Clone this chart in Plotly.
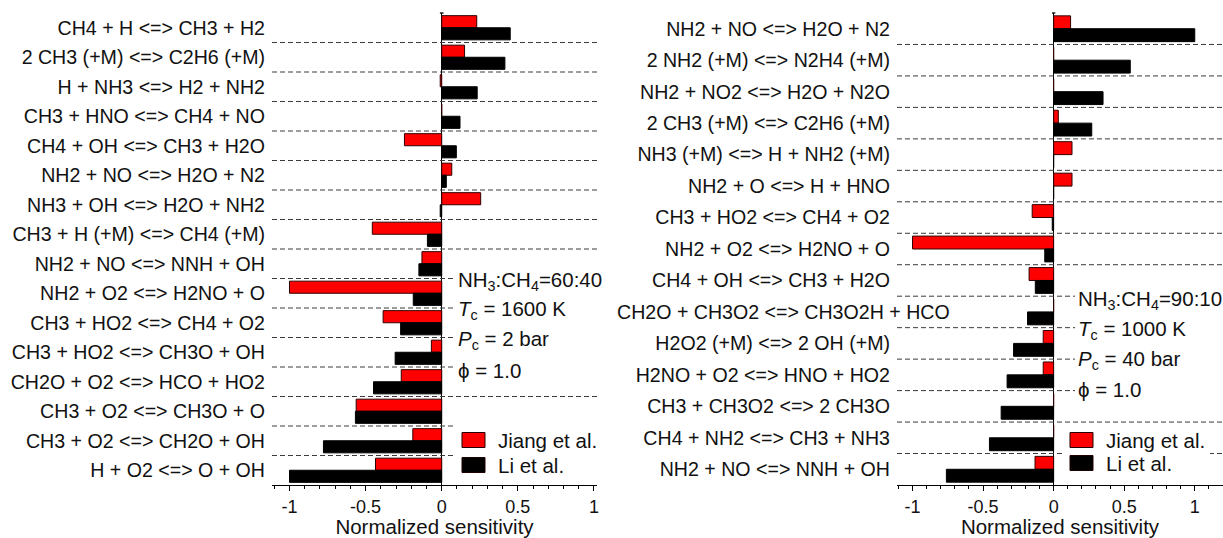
import plotly.graph_objects as go

# ---------------- data ----------------
left_reactions = [
    "CH4 + H <=> CH3 + H2", "2 CH3 (+M) <=> C2H6 (+M)", "H + NH3 <=> H2 + NH2",
    "CH3 + HNO <=> CH4 + NO", "CH4 + OH <=> CH3 + H2O", "NH2 + NO <=> H2O + N2",
    "NH3 + OH <=> H2O + NH2", "CH3 + H (+M) <=> CH4 (+M)", "NH2 + NO <=> NNH + OH",
    "NH2 + O2 <=> H2NO + O", "CH3 + HO2 <=> CH4 + O2", "CH3 + HO2 <=> CH3O + OH",
    "CH2O + O2 <=> HCO + HO2", "CH3 + O2 <=> CH3O + O", "CH3 + O2 <=> CH2O + OH",
    "H + O2 <=> O + OH",
]
left_jiang = [0.23, 0.15, -0.01, 0.0, -0.245, 0.066, 0.256, -0.456, -0.13, -1.0,
              -0.385, -0.068, -0.266, -0.562, -0.19, -0.435]
left_li = [0.45, 0.415, 0.233, 0.12, 0.096, 0.03, -0.01, -0.094, -0.15, -0.187,
           -0.27, -0.306, -0.448, -0.567, -0.777, -1.0]

right_reactions = [
    "NH2 + NO <=> H2O + N2", "2 NH2 (+M) <=> N2H4 (+M)", "NH2 + NO2 <=> H2O + N2O",
    "2 CH3 (+M) <=> C2H6 (+M)", "NH3 (+M) <=> H + NH2 (+M)", "NH2 + O <=> H + HNO",
    "CH3 + HO2 <=> CH4 + O2", "NH2 + O2 <=> H2NO + O", "CH4 + OH <=> CH3 + H2O",
    "CH2O + CH3O2 <=> CH3O2H + HCO", "H2O2 (+M) <=> 2 OH (+M)", "H2NO + O2 <=> HNO + HO2",
    "CH3 + CH3O2 <=> 2 CH3O", "CH4 + NH2 <=> CH3 + NH3", "NH2 + NO <=> NNH + OH",
]
right_jiang = [0.12, 0.0, 0.0, 0.033, 0.13, 0.13, -0.152, -1.0, -0.174, 0.0,
               -0.074, -0.074, 0.0, 0.0, -0.132]
right_li = [1.0, 0.543, 0.35, 0.27, 0.0, 0.0, -0.01, -0.063, -0.13, -0.185,
            -0.284, -0.33, -0.372, -0.455, -0.76]

series_names = ["Jiang et al.", "Li et al."]
left_notes = ["NH<sub>3</sub>:CH<sub>4</sub>=60:40", "<i>T</i><sub>c</sub> = 1600 K",
              "<i>P</i><sub>c</sub> = 2 bar", "ϕ = 1.0"]
right_notes = ["NH<sub>3</sub>:CH<sub>4</sub>=90:10", "<i>T</i><sub>c</sub> = 1000 K",
               "<i>P</i><sub>c</sub> = 40 bar", "ϕ = 1.0"]
x_tickvals = [-1, -0.5, 0, 0.5, 1]
x_ticktext = ["-1", "-0.5", "0", "0.5", "1"]
x_title = "Normalized sensitivity"
long_label = "CH2O + CH3O2 <=> CH3O2H + HCO"

# ---------------- layout helpers ----------------
W, H = 1223, 538
TOP, BOT = 13, 485
RED, BLACK = "#ff0000", "#000000"
FONT = "Arial, 'Liberation Sans', sans-serif"
TXT = "#111111"
LABEL_SIZE = 19.6
NOTE_SIZE = 20.5


def px(p):
    return p / W


def py(p):
    return (BOT - p) / (BOT - TOP)


fig = go.Figure()

panels = [
    dict(xa="x", ya="y", react=left_reactions, jiang=left_jiang, li=left_li,
         dom=[px(272), px(597)], xr=[-1.115, 1.02]),
    dict(xa="x2", ya="y2", react=right_reactions, jiang=right_jiang, li=right_li,
         dom=[px(897), 1.0], xr=[-1.11, 1.2]),
]

for p in panels:
    fig.add_trace(go.Bar(y=p["react"], x=p["jiang"], orientation="h", name=series_names[0],
                         marker=dict(color=RED, line=dict(color="#300000", width=1)),
                         xaxis=p["xa"], yaxis=p["ya"], showlegend=False))
    fig.add_trace(go.Bar(y=p["react"], x=p["li"], orientation="h", name=series_names[1],
                         marker=dict(color=BLACK, line=dict(color=BLACK, width=1)),
                         xaxis=p["xa"], yaxis=p["ya"], showlegend=False))

xaxis_common = dict(
    showline=True, linecolor="black", linewidth=1.3, mirror=False,
    showgrid=False, zeroline=True, zerolinecolor="black", zerolinewidth=1.3,
    tickmode="array", tickvals=x_tickvals, ticktext=x_ticktext,
    ticks="outside", ticklen=5, tickwidth=1, tickcolor="black",
    minor=dict(dtick=0.1, tick0=0, ticks="outside", ticklen=3, tickcolor="black", tickwidth=1),
    tickfont=dict(family=FONT, size=18, color=TXT),
    title=dict(text=x_title, font=dict(family=FONT, size=20.5, color=TXT), standoff=2),
    automargin=False,
)
yaxis_common = dict(
    type="category", showline=False, showgrid=False, zeroline=False, ticks="",
    tickfont=dict(family=FONT, size=LABEL_SIZE, color=TXT), ticklabelstandoff=6,
    automargin=False,
)

fig.update_layout(
    width=W, height=H,
    margin=dict(l=0, r=0, t=TOP, b=H - BOT),
    paper_bgcolor="white", plot_bgcolor="white",
    barmode="group", bargap=0.18, bargroupgap=0.0,
    xaxis=dict(domain=panels[0]["dom"], range=panels[0]["xr"], anchor="y", **xaxis_common),
    yaxis=dict(domain=[0, 1], anchor="x", range=[len(left_reactions) - 0.5, -0.5],
               categoryorder="array", categoryarray=left_reactions, **yaxis_common),
    xaxis2=dict(domain=panels[1]["dom"], range=panels[1]["xr"], anchor="y2", **xaxis_common),
    yaxis2=dict(domain=[0, 1], anchor="x2", range=[len(right_reactions) - 0.5, -0.5],
                categoryorder="array", categoryarray=right_reactions,
                tickmode="array", tickvals=right_reactions,
                ticktext=[" " if r == long_label else r for r in right_reactions],
                **yaxis_common),
    showlegend=False,
)

shapes = []
# dashed separators between rows
for p in panels:
    n = len(p["react"])
    for k in range(1, n):
        shapes.append(dict(type="line", xref=p["xa"], yref=p["ya"],
                           x0=p["xr"][0], x1=p["xr"][1], y0=k - 0.5, y1=k - 0.5,
                           line=dict(color="#3a3a3a", width=1, dash="5px,3px"), layer="above"))
    # small cap at top of the zero line
    shapes.append(dict(type="line", xref=p["xa"], yref="paper", x0=-0.012, x1=0.012,
                       y0=1, y1=1, line=dict(color="black", width=1.3), layer="above"))

# white boxes behind annotation blocks / legends
white_boxes = [
    (455, 600, 268, 378),
    (455, 600, 416, 482),
    (1075, 1223, 287, 400),
    (1062, 1210, 430, 482),
]
for x0, x1, y0, y1 in white_boxes:
    shapes.append(dict(type="rect", xref="paper", yref="paper", x0=px(x0), x1=px(x1),
                       y0=py(y1), y1=py(y0), fillcolor="white", line=dict(width=0), layer="above"))

# legend swatches
legend_specs = [
    dict(sx=462, tx=496, ys=[440, 465]),
    dict(sx=1070, tx=1104, ys=[440, 463]),
]
annotations = []
for spec in legend_specs:
    for color, yc, name in zip([RED, BLACK], spec["ys"], series_names):
        shapes.append(dict(type="rect", xref="paper", yref="paper",
                           x0=px(spec["sx"]), x1=px(spec["sx"] + 23),
                           y0=py(yc + 7.5), y1=py(yc - 7.5),
                           fillcolor=color, line=dict(color="#200000", width=1), layer="above"))
        annotations.append(dict(xref="paper", yref="paper", x=px(spec["tx"]), y=py(yc),
                                xanchor="left", yanchor="middle", text=name, showarrow=False,
                                font=dict(family=FONT, size=NOTE_SIZE, color=TXT)))

# condition notes
for notes, xl, ycs in [(left_notes, 456, [281, 310, 340, 370]),
                       (right_notes, 1076, [300, 330, 360, 389])]:
    for t, yc in zip(notes, ycs):
        annotations.append(dict(xref="paper", yref="paper", x=px(xl), y=py(yc),
                                xanchor="left", yanchor="middle", text=t, showarrow=False,
                                font=dict(family=FONT, size=NOTE_SIZE, color=TXT)))

# long label in right panel that overflows into plot area
annotations.append(dict(xref="paper", yref="y2", x=px(615), y=long_label,
                        xanchor="left", yanchor="middle", text=long_label,
                        showarrow=False, font=dict(family=FONT, size=LABEL_SIZE, color=TXT)))

fig.update_layout(shapes=shapes, annotations=annotations)
fig.write_html("out.html", config={"displayModeBar": False},
               post_script="document.body.style.margin='0px';document.body.style.overflow='hidden';")
